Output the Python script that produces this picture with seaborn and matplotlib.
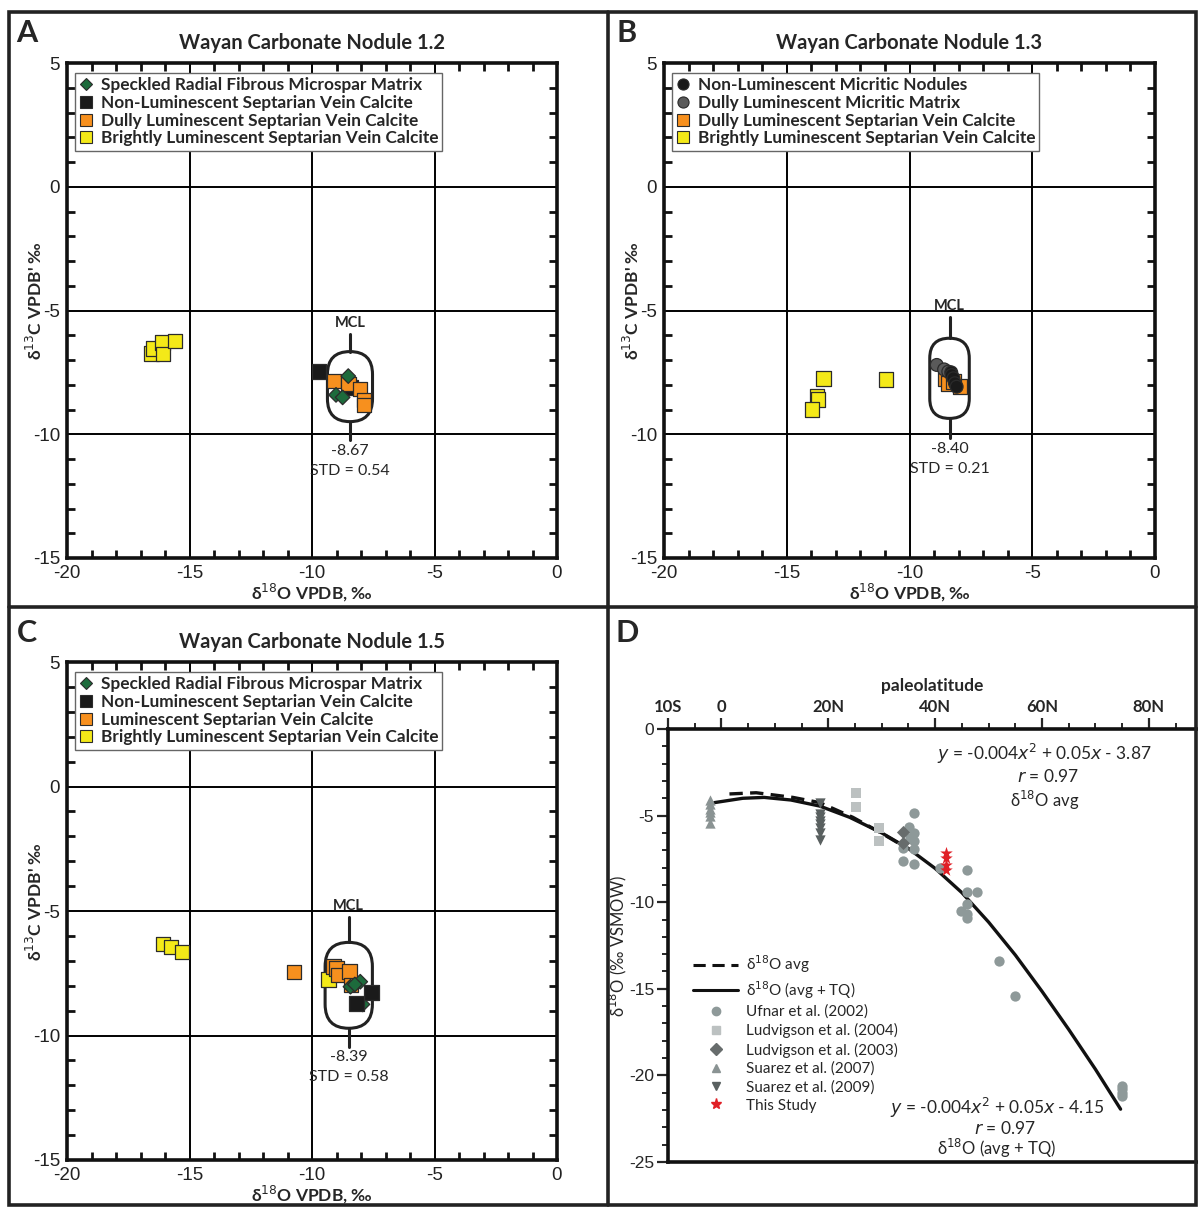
import numpy as np
import pandas as pd
import seaborn as sns
import matplotlib.pyplot as plt
from matplotlib.patches import FancyBboxPatch, Rectangle
from matplotlib.lines import Line2D
from matplotlib.ticker import MultipleLocator, FixedLocator

sns.set_theme(style="white")
plt.rcParams['font.family'] = ['Lato', 'DejaVu Sans']
plt.rcParams['mathtext.fontset'] = 'dejavusans'
plt.rcParams['axes.unicode_minus'] = False

# ---------------- data ----------------
# panel A  (Wayan Carbonate Nodule 1.2)
A_spk_x = [-8.52, -9.02, -8.75]
A_spk_y = [-7.65, -8.41, -8.51]
A_non_x = [-9.71, -8.40]
A_non_y = [-7.47, -8.10]
A_dul_x = [-9.10, -8.52, -8.04, -7.87, -7.88]
A_dul_y = [-7.85, -7.97, -8.17, -8.62, -8.82]
A_bri_x = [-16.54, -16.48, -16.11, -16.09, -15.59]
A_bri_y = [-6.73, -6.53, -6.30, -6.76, -6.23]

# panel B  (Wayan Carbonate Nodule 1.3)
B_nod_x = [-8.30, -8.28, -8.21, -8.15, -8.08]
B_nod_y = [-7.50, -7.61, -7.74, -7.94, -8.08]
B_mat_x = [-8.89, -8.59, -8.42]
B_mat_y = [-7.20, -7.38, -7.47]
B_dul_x = [-8.55, -8.42, -7.94, -8.21]
B_dul_y = [-7.74, -7.94, -8.08, -7.88]
B_bri_x = [-13.51, -13.76, -13.72, -13.98, -10.95]
B_bri_y = [-7.74, -8.45, -8.59, -8.99, -7.78]

# panel C  (Wayan Carbonate Nodule 1.5)
C_spk_x = [-8.43, -8.03, -7.94, -8.25]
C_spk_y = [-8.04, -7.84, -8.75, -7.95]
C_non_x = [-7.56, -8.19]
C_non_y = [-8.28, -8.71]
C_lum_x = [-10.73, -9.13, -9.00, -8.92, -8.48, -8.41]
C_lum_y = [-7.45, -7.24, -7.30, -7.57, -7.44, -7.97]
C_bri_x = [-16.08, -15.76, -15.31, -9.33]
C_bri_y = [-6.33, -6.45, -6.65, -7.74]

# MCL: mean, std
mcl_A = ("-8.67", "0.54")
mcl_B = ("-8.40", "0.21")
mcl_C = ("-8.39", "0.58")

# panel D  (paleolatitude vs d18O)
ufnar_lat = [34.0, 34.0, 35.1, 35.2, 36.0, 36.0, 36.0, 36.0, 36.0, 40.9, 46.0, 46.0,
             47.9, 46.0, 44.9, 46.0, 46.0, 52.0, 54.9, 74.9, 74.9, 74.9, 74.9]
ufnar_d18O = [-6.89, -7.60, -5.68, -6.30, -4.83, -5.99, -6.45, -6.95, -7.79, -8.04, -8.14,
              -9.39, -9.39, -10.12, -10.49, -10.68, -10.90, -13.38, -15.42, -20.6, -20.8,
              -21.0, -21.2]
ludv04_lat = [25.1, 25.1, 29.5, 29.5]
ludv04_d18O = [-3.68, -4.48, -5.73, -6.45]
ludv03_lat = [34.0, 34.0]
ludv03_d18O = [-5.93, -6.60]
suarez07_lat = [-2.1, -2.1, -2.1, -2.1, -2.1, -2.1]
suarez07_d18O = [-4.10, -4.35, -4.60, -4.80, -5.00, -5.40]
suarez09_lat = [18.4, 18.4, 18.4, 18.4, 18.4, 18.4, 18.4, 18.4]
suarez09_d18O = [-4.30, -4.90, -5.10, -5.30, -5.50, -5.70, -6.00, -6.40]
study_lat = [42.0, 42.0, 42.0, 42.0]
study_d18O = [-7.14, -7.47, -7.85, -8.14]

fit_avg_lat = [1.5, 6.5, 13.4, 18.4, 24.6, 29.6, 34.0]
fit_avg_d18O = [-3.75, -3.68, -3.95, -4.25, -5.10, -5.95, -6.75]
fit_tq_lat = [-1.3, 4, 8, 13, 18.4, 24, 30, 35, 40, 45, 50, 55, 60, 65, 70, 74.7]
fit_tq_d18O = [-4.25, -4.0, -3.95, -4.1, -4.45, -5.1, -6.0, -6.9, -8.05, -9.45, -11.15,
               -13.05, -15.15, -17.35, -19.65, -21.95]

lat_ticks = [-10, 0, 20, 40, 60, 80]
lat_labels = ['10S', '0', '20N', '40N', '60N', '80N']

# ---------------- styles ----------------
GREEN, BLACK, ORANGE, YELLOW, GRAY = '#1d6b3c', '#1a1a1a', '#f7901e', '#f4e918', '#5a5a5a'
EDGE = '#2b2b2b'
TICKFONT = 'Liberation Sans'

W, H = 1198, 1207
fig = plt.figure(figsize=(W / 100, H / 100), dpi=100)


def make_df(groups):
    rows = []
    for name, xs, ys in groups:
        for x, y in zip(xs, ys):
            rows.append({'group': name, 'd18O': x, 'd13C': y})
    return pd.DataFrame(rows)


def nodule_panel(ax, df, legend_order, colors, markers, sizes, title, mcl, box):
    sns.scatterplot(data=df, x='d18O', y='d13C', hue='group', style='group', size='group',
                    hue_order=legend_order, style_order=legend_order, size_order=legend_order,
                    palette=colors, markers=markers, sizes=sizes, edgecolor=EDGE,
                    linewidth=0.9, legend=False, ax=ax, zorder=5)
    ax.set_xlim(-20, 0)
    ax.set_ylim(-15, 5)
    ax.xaxis.set_major_locator(MultipleLocator(5))
    ax.yaxis.set_major_locator(MultipleLocator(5))
    ax.xaxis.set_minor_locator(MultipleLocator(1))
    ax.yaxis.set_minor_locator(MultipleLocator(1))
    ax.grid(True, which='major', color='black', lw=1.4)
    ax.tick_params(which='major', length=0, labelsize=13.5, pad=5, colors='#222',
                   labelfontfamily=TICKFONT)
    ax.tick_params(which='minor', direction='in', length=6, width=2, color='#111',
                   top=True, right=True, bottom=True, left=True)
    for s in ax.spines.values():
        s.set_linewidth(2.6)
        s.set_color('#111')
    ax.set_xlabel('δ$^{18}$O VPDB, ‰', fontsize=12.5, fontweight='bold', labelpad=0)
    ax.set_ylabel("δ$^{13}$C VPDB' ‰", fontsize=12.5, fontweight='bold')
    ax.yaxis.set_label_coords(-0.045, 0.52)
    ax.set_title(title, fontsize=14.5, fontweight='bold', pad=10)

    # MCL stadium
    cx, lo, hi, w, top, bot = box
    ax.add_patch(FancyBboxPatch((cx - w / 2, lo), w, hi - lo,
                                boxstyle=f"round,pad=0,rounding_size={w / 2}",
                                fill=False, lw=2.2, ec='#222', zorder=3))
    ax.plot([cx, cx], [hi, top], color='#222', lw=2.2, zorder=3)
    ax.plot([cx, cx], [bot, lo], color='#222', lw=2.2, zorder=3)
    ax.text(cx, top + 0.15, 'MCL', ha='center', va='bottom', fontsize=10.5, fontweight='bold')
    ax.text(cx, bot - 0.15, mcl[0], ha='center', va='top', fontsize=11.5)
    ax.text(cx, bot - 0.95, 'STD = ' + mcl[1], ha='center', va='top', fontsize=11.5)

    handles = [Line2D([], [], ls='', marker=markers[g], markerfacecolor=colors[g],
                      markeredgecolor=EDGE, markeredgewidth=0.8,
                      markersize=8 if markers[g] != 'D' else 6.5) for g in legend_order]
    leg = ax.legend(handles, legend_order, loc='upper left', bbox_to_anchor=(0.016, 0.98),
                    frameon=True, fancybox=False, edgecolor='#666', framealpha=1,
                    prop={'size': 12.4, 'weight': 'bold'}, handlelength=0.8,
                    handletextpad=0.45, borderpad=0.25, labelspacing=0.1, borderaxespad=0)
    leg.get_frame().set_linewidth(1.0)
    leg.set_zorder(10)


# ---------------- panel A ----------------
axA = fig.add_axes([67 / W, 1 - 558 / H, 490 / W, 495 / H])
dfA = make_df([('Brightly Luminescent Septarian Vein Calcite', A_bri_x, A_bri_y),
               ('Non-Luminescent Septarian Vein Calcite', A_non_x, A_non_y),
               ('Dully Luminescent Septarian Vein Calcite', A_dul_x, A_dul_y),
               ('Speckled Radial Fibrous Microspar Matrix', A_spk_x, A_spk_y)])
ordA = ['Speckled Radial Fibrous Microspar Matrix', 'Non-Luminescent Septarian Vein Calcite',
        'Dully Luminescent Septarian Vein Calcite', 'Brightly Luminescent Septarian Vein Calcite']
nodule_panel(axA, dfA, ordA,
             dict(zip(ordA, [GREEN, BLACK, ORANGE, YELLOW])),
             dict(zip(ordA, ['D', 's', 's', 's'])),
             dict(zip(ordA, [55, 110, 110, 110])),
             'Wayan Carbonate Nodule 1.2', mcl_A,
             (-8.45, -9.49, -6.66, 1.84, -5.95, -10.25))

# ---------------- panel B ----------------
axB = fig.add_axes([664 / W, 1 - 558 / H, 491 / W, 495 / H])
ordB = ['Non-Luminescent Micritic Nodules', 'Dully Luminescent Micritic Matrix',
        'Dully Luminescent Septarian Vein Calcite', 'Brightly Luminescent Septarian Vein Calcite']
dfB = make_df([(ordB[3], B_bri_x, B_bri_y), (ordB[2], B_dul_x, B_dul_y),
               (ordB[1], B_mat_x, B_mat_y), (ordB[0], B_nod_x, B_nod_y)])
nodule_panel(axB, dfB, ordB,
             dict(zip(ordB, [BLACK, GRAY, ORANGE, YELLOW])),
             dict(zip(ordB, ['o', 'o', 's', 's'])),
             dict(zip(ordB, [85, 85, 110, 110])),
             'Wayan Carbonate Nodule 1.3', mcl_B,
             (-8.37, -9.36, -6.12, 1.61, -5.25, -10.16))

# ---------------- panel C ----------------
axC = fig.add_axes([67 / W, 1 - 1160 / H, 490 / W, 498 / H])
ordC = ['Speckled Radial Fibrous Microspar Matrix', 'Non-Luminescent Septarian Vein Calcite',
        'Luminescent Septarian Vein Calcite', 'Brightly Luminescent Septarian Vein Calcite']
dfC = make_df([(ordC[3], C_bri_x, C_bri_y), (ordC[2], C_lum_x, C_lum_y),
               (ordC[0], C_spk_x, C_spk_y), (ordC[1], C_non_x, C_non_y)])
nodule_panel(axC, dfC, ordC,
             dict(zip(ordC, [GREEN, BLACK, ORANGE, YELLOW])),
             dict(zip(ordC, ['D', 's', 's', 's'])),
             dict(zip(ordC, [55, 110, 110, 110])),
             'Wayan Carbonate Nodule 1.5', mcl_C,
             (-8.50, -9.71, -6.26, 1.93, -5.23, -10.45))

# ---------------- panel D ----------------
axD = fig.add_axes([668 / W, 1 - 1162 / H, (1197 - 668) / W, (1162 - 729) / H])
sns.lineplot(x=fit_avg_lat, y=fit_avg_d18O, color='#111', lw=2.4, ax=axD,
             linestyle=(0, (4, 2.2)), sort=False, estimator=None, zorder=3)
sns.lineplot(x=fit_tq_lat, y=fit_tq_d18O, color='#111', lw=2.4, ax=axD,
             sort=False, estimator=None, zorder=3)

pts = [(ufnar_lat, ufnar_d18O, 'o', '#8e9999', 55, 'Ufnar et al. (2002)'),
       (ludv04_lat, ludv04_d18O, 's', '#bcc1c1', 55, 'Ludvigson et al. (2004)'),
       (ludv03_lat, ludv03_d18O, 'D', '#676c6c', 45, 'Ludvigson et al. (2003)'),
       (suarez07_lat, suarez07_d18O, '^', '#8a9393', 55, 'Suarez et al. (2007)'),
       (suarez09_lat, suarez09_d18O, 'v', '#596060', 55, 'Suarez et al. (2009)'),
       (study_lat, study_d18O, '*', '#e01f26', 90, 'This Study')]
for xs, ys, m, c, s, lab in pts:
    sns.scatterplot(x=xs, y=ys, marker=m, color=c, s=s, linewidth=0, ax=axD, zorder=4)

axD.set_xlim(-10, 89)
axD.set_ylim(-25, 0)
axD.xaxis.tick_top()
axD.xaxis.set_label_position('top')
axD.xaxis.set_major_locator(FixedLocator(lat_ticks))
axD.xaxis.set_minor_locator(MultipleLocator(5))
axD.set_xticklabels(lat_labels, fontweight='bold', fontsize=12)
axD.yaxis.set_major_locator(MultipleLocator(5))
axD.yaxis.set_minor_locator(MultipleLocator(1))
axD.tick_params(axis='x', which='major', direction='out', length=8, width=1.6, pad=2,
                top=True, bottom=False)
axD.tick_params(axis='x', which='minor', direction='out', length=4, width=1.4,
                top=True, bottom=False)
axD.tick_params(axis='y', which='major', direction='out', length=8, width=1.6, pad=2,
                labelsize=12.5, left=True, labelfontfamily=TICKFONT)
axD.tick_params(axis='y', which='minor', direction='out', length=4, width=1.4, left=True)
axD.spines['right'].set_visible(False)
for k in ['left', 'top', 'bottom']:
    axD.spines[k].set_linewidth(2.6)
    axD.spines[k].set_color('#111')
axD.set_xlabel('paleolatitude', fontsize=12.5, fontweight='bold', labelpad=6)
axD.set_ylabel('δ$^{18}$O (‰ VSMOW)', fontsize=12)
axD.yaxis.set_label_coords(-0.074, 0.5)

axD.text(60.5, -1.45, '$y$ = -0.004$x^2$ + 0.05$x$ - 3.87', ha='center', va='center', fontsize=12.5)
axD.text(61.1, -2.75, '$r$ = 0.97', ha='center', va='center', fontsize=12.5)
axD.text(60.5, -4.15, 'δ$^{18}$O avg', ha='center', va='center', fontsize=12)
axD.text(51.5, -21.9, '$y$ = -0.004$x^2$ + 0.05$x$ - 4.15', ha='center', va='center', fontsize=12.5)
axD.text(53.0, -23.05, '$r$ = 0.97', ha='center', va='center', fontsize=12.5)
axD.text(51.5, -24.2, 'δ$^{18}$O (avg + TQ)', ha='center', va='center', fontsize=12)

d_handles = [Line2D([], [], color='#111', lw=2.2, ls=(0, (4, 2.2))),
             Line2D([], [], color='#111', lw=2.2)]
d_labels = ['δ$^{18}$O avg', 'δ$^{18}$O (avg + TQ)']
for xs, ys, m, c, s, lab in pts:
    d_handles.append(Line2D([], [], ls='', marker=m, color=c,
                            markersize=8 if m == '*' else 6))
    d_labels.append(lab)
axD.legend(d_handles, d_labels, loc='lower left', bbox_to_anchor=(0.035, 0.1),
           frameon=False, fontsize=11, handlelength=3.0, handletextpad=0.5,
           labelspacing=0.27, borderaxespad=0)

# ---------------- panel letters and frame ----------------
for lab, x, y in [('A', 27, 33), ('B', 627, 33), ('C', 27, 633), ('D', 627, 633)]:
    fig.text(x / W, 1 - y / H, lab, fontsize=22, fontweight='bold', ha='center', va='center')

fig.add_artist(Rectangle((9 / W, 1 - 1205 / H), (1196 - 9) / W, (1205 - 12) / H,
                         transform=fig.transFigure, fill=False, lw=2.6, ec='#222'))
fig.add_artist(Line2D([608 / W, 608 / W], [1 - 12 / H, 1 - 1205 / H],
                      transform=fig.transFigure, lw=2.6, color='#222'))
fig.add_artist(Line2D([9 / W, 1196 / W], [1 - 607 / H, 1 - 607 / H],
                      transform=fig.transFigure, lw=2.6, color='#222'))

fig.savefig('out.png', dpi=100)
